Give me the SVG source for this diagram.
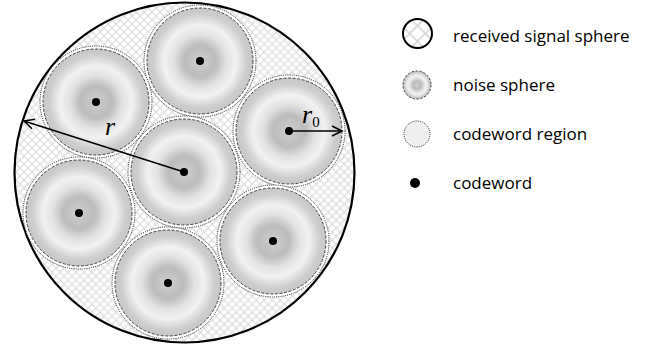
<svg xmlns="http://www.w3.org/2000/svg" width="650" height="347" viewBox="0 0 650 347">
<style>
.region{fill:#ffffff;stroke:#222;stroke-width:1;stroke-dasharray:1 1.2}
.noise{fill:url(#ng);stroke:#333;stroke-width:0.9;stroke-dasharray:3 1.6}
.dot{fill:#000}
.lbl{font-family:"Open Sans","Liberation Sans",sans-serif;font-size:17px;fill:#000}
.math{font-family:"Liberation Serif","DejaVu Serif",serif;font-style:italic;fill:#000}
.arrow{stroke:#000;stroke-width:1.5;fill:none}
</style>
<defs>
<pattern id="hatch" patternUnits="userSpaceOnUse" width="5.66" height="5.66" patternTransform="rotate(45)">
<rect width="5.66" height="5.66" fill="#fff"/>
<path d="M0,2.83H5.66M2.83,0V5.66" stroke="#d4d4d4" stroke-width="1"/>
</pattern>
<pattern id="hatch2" patternUnits="userSpaceOnUse" x="417.5" y="33.5" width="11" height="11" patternTransform="rotate(45 417.5 33.5)">
<rect width="11" height="11" fill="#fff"/>
<path d="M0,5.5H11M5.5,0V11" stroke="#d2d2d2" stroke-width="1.5"/>
</pattern>
<radialGradient id="ng" cx="0.5" cy="0.5" r="0.5">
<stop offset="0" stop-color="#d2d2d2"/>
<stop offset="0.1" stop-color="#c8c8c8"/>
<stop offset="0.3" stop-color="#bcbcbc"/>
<stop offset="0.5" stop-color="#e2e2e2"/>
<stop offset="0.68" stop-color="#f2f2f2"/>
<stop offset="0.88" stop-color="#cecece"/>
<stop offset="1" stop-color="#c6c6c6"/>
</radialGradient>
<marker id="ah" markerUnits="userSpaceOnUse" markerWidth="14" markerHeight="14" refX="11" refY="6" orient="auto">
<path d="M1,1 L11,6 L1,11" fill="none" stroke="#000" stroke-width="1.5"/>
</marker>
</defs>

<g id="signal-sphere">
<circle cx="184.5" cy="172.5" r="170" fill="url(#hatch)" stroke="#000" stroke-width="2.2"/>
</g>

<g id="cw-top">
<circle class="region" cx="200" cy="61" r="56"/>
<circle class="noise" cx="200" cy="61" r="53"/>
<circle class="dot" cx="200" cy="61" r="4"/>
</g>
<g id="cw-upper-left">
<circle class="region" cx="96" cy="102" r="56"/>
<circle class="noise" cx="96" cy="102" r="53"/>
<circle class="dot" cx="96" cy="102" r="4"/>
</g>
<g id="cw-right">
<circle class="region" cx="289" cy="131" r="56"/>
<circle class="noise" cx="289" cy="131" r="53"/>
<circle class="dot" cx="289" cy="131" r="4"/>
</g>
<g id="cw-left">
<circle class="region" cx="79" cy="213" r="56"/>
<circle class="noise" cx="79" cy="213" r="53"/>
<circle class="dot" cx="79" cy="213" r="4"/>
</g>
<g id="cw-lower-right">
<circle class="region" cx="273" cy="241" r="56"/>
<circle class="noise" cx="273" cy="241" r="53"/>
<circle class="dot" cx="273" cy="241" r="4"/>
</g>
<g id="cw-bottom">
<circle class="region" cx="168" cy="283" r="56"/>
<circle class="noise" cx="168" cy="283" r="53"/>
<circle class="dot" cx="168" cy="283" r="4"/>
</g>
<g id="cw-center">
<circle class="region" cx="184" cy="172" r="56"/>
<circle class="noise" cx="184" cy="172" r="53"/>
<circle class="dot" cx="184" cy="172" r="4"/>
</g>

<g id="connectors">
<line class="arrow" x1="184" y1="172" x2="24" y2="121" marker-end="url(#ah)"/>
<line class="arrow" x1="289" y1="131" x2="342" y2="131" marker-end="url(#ah)"/>
</g>
<g id="labels">
<text class="math" x="105" y="135" font-size="26">r</text>
<text class="math" x="302" y="123" font-size="26">r<tspan font-style="normal" font-size="15" dy="4">0</tspan></text>
</g>

<g id="legend-received">
<circle cx="417.5" cy="33.5" r="14.5" fill="url(#hatch2)" stroke="#000" stroke-width="2"/>
<text class="lbl" x="453" y="42">received signal sphere</text>
</g>
<g id="legend-noise">
<circle cx="417" cy="85" r="14" fill="url(#ng)" stroke="#333" stroke-width="0.9" stroke-dasharray="2.5 1.5"/>
<text class="lbl" x="453" y="91">noise sphere</text>
</g>
<g id="legend-region">
<circle cx="417" cy="134" r="13" fill="#efefef" stroke="#222" stroke-width="1" stroke-dasharray="1 1.2"/>
<text class="lbl" x="453" y="140">codeword region</text>
</g>
<g id="legend-codeword">
<circle cx="415" cy="183" r="5" fill="#000"/>
<text class="lbl" x="453" y="189">codeword</text>
</g>
</svg>
